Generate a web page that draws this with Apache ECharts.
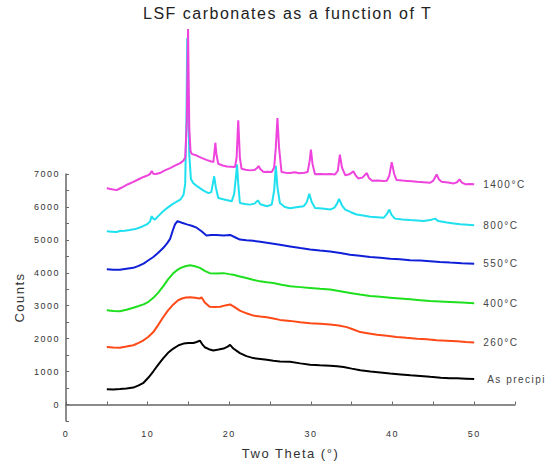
<!DOCTYPE html>
<html>
<head>
<meta charset="utf-8">
<script src="https://cdn.jsdelivr.net/npm/echarts@6/dist/echarts.min.js"></script>
<style>
html,body{margin:0;padding:0;background:#fff;}
#chart{width:551px;height:465px;}
#chart text{letter-spacing:1.5px;}
</style>
</head>
<body>
<div id="chart"></div>
<script>
const titleText = 'LSF carbonates as a function of T';
const xName = 'Two Theta (°)';
const yName = 'Counts';
const seriesNames = ['1400°C', '800°C', '550°C', '400°C', '260°C', 'As precipi'];
const seriesColors = ['#ee44dd', '#1fe0ee', '#1020d8', '#1ee01e', '#ff4a18', '#000000'];

const s1400 = [[5.0,6570],[5.6,6540],[6.2,6510],[6.6,6560],[7.0,6610],[7.6,6690],[8.25,6760],[8.9,6840],[9.5,6910],[10.0,6960],[10.3,7000],[10.5,7090],[10.7,7010],[11.0,7000],[11.5,7030],[12.1,7110],[12.75,7180],[13.4,7260],[14.0,7330],[14.4,7410],[14.6,7500],[14.8,8600],[14.95,11400],[15.1,8400],[15.25,7700],[15.4,7610],[16.0,7560],[16.6,7490],[17.2,7430],[17.8,7380],[18.05,7360],[18.2,7700],[18.3,7950],[18.42,7600],[18.65,7310],[19.2,7260],[19.7,7230],[20.2,7220],[20.7,7210],[20.9,7500],[21.1,8630],[21.3,7500],[21.5,7160],[22.0,7130],[22.55,7110],[23.1,7120],[23.4,7180],[23.6,7240],[23.8,7150],[24.2,7060],[24.7,7070],[25.2,7060],[25.5,7200],[25.7,7800],[25.9,8700],[26.1,7800],[26.4,7060],[26.9,7040],[27.45,7030],[28.0,7050],[28.6,7020],[29.2,7040],[29.6,7060],[29.85,7400],[30.0,7740],[30.2,7300],[30.5,6990],[31.2,7000],[31.8,6990],[32.4,7000],[32.95,6985],[33.3,7100],[33.55,7590],[33.8,7200],[34.2,6965],[34.7,6990],[35.2,7080],[35.5,6950],[35.8,6865],[36.3,6890],[36.85,7030],[37.1,6880],[37.5,6795],[38.2,6800],[38.8,6790],[39.3,6795],[39.6,6950],[39.9,7360],[40.2,7000],[40.5,6815],[41.2,6800],[41.8,6790],[42.4,6780],[43.0,6765],[43.8,6750],[44.6,6735],[45.0,6800],[45.4,6985],[45.7,6830],[46.0,6765],[46.8,6740],[47.5,6715],[47.9,6750],[48.2,6835],[48.5,6740],[48.9,6690],[49.5,6700],[50.0,6690]];

const s800 = [[5.0,5260],[5.6,5250],[6.2,5240],[6.6,5270],[7.2,5280],[7.8,5300],[8.65,5340],[9.3,5400],[9.9,5470],[10.3,5560],[10.5,5720],[10.7,5640],[10.9,5620],[11.3,5720],[11.7,5820],[12.3,5950],[12.95,6070],[13.5,6150],[14.0,6220],[14.4,6370],[14.6,6700],[14.75,8600],[14.85,11130],[14.98,9000],[15.1,7600],[15.3,6850],[15.6,6720],[16.0,6640],[16.4,6570],[16.9,6490],[17.45,6420],[17.8,6450],[18.05,6800],[18.15,6930],[18.35,6600],[18.65,6270],[19.5,6220],[20.3,6170],[20.6,6400],[20.85,7000],[20.95,7290],[21.1,6700],[21.3,6120],[21.9,6090],[22.55,6070],[23.1,6100],[23.5,6200],[23.8,6080],[24.6,6020],[25.2,6070],[25.5,6500],[25.7,7250],[25.9,6600],[26.2,6120],[26.8,6000],[27.45,5960],[28.2,5990],[29.1,6020],[29.5,6150],[29.8,6400],[30.1,6150],[30.5,5970],[31.4,5950],[32.35,5920],[32.9,5980],[33.2,6100],[33.45,6240],[33.8,6050],[34.2,5920],[34.9,5840],[35.6,5770],[36.4,5740],[37.25,5700],[38.1,5690],[38.9,5670],[39.3,5780],[39.6,5920],[39.9,5750],[40.3,5645],[41.2,5620],[42.15,5600],[43.0,5590],[43.8,5575],[44.6,5600],[45.2,5645],[45.6,5570],[46.65,5525],[47.5,5500],[48.3,5475],[49.2,5460],[50.0,5446]];

const s550 = [[5.0,4110],[5.8,4090],[6.6,4090],[7.4,4120],[8.25,4150],[8.9,4210],[9.5,4280],[10.1,4380],[10.7,4480],[11.3,4610],[11.9,4750],[12.4,4900],[12.75,5030],[13.1,5300],[13.35,5470],[13.65,5570],[14.2,5520],[14.8,5470],[15.4,5430],[16.0,5370],[16.6,5260],[17.2,5130],[17.8,5150],[18.45,5150],[19.3,5130],[20.1,5150],[20.7,5080],[21.3,5010],[22.1,4990],[22.95,4970],[23.8,4940],[24.6,4910],[25.4,4880],[26.2,4850],[27.45,4800],[28.7,4750],[29.9,4710],[31.1,4680],[32.35,4650],[33.6,4600],[34.8,4550],[36.0,4520],[37.25,4480],[38.5,4460],[39.7,4430],[40.9,4410],[42.15,4380],[43.4,4370],[44.6,4350],[45.8,4330],[47.05,4310],[48.5,4290],[50.0,4276]];

const s400 = [[5.0,2860],[5.8,2840],[6.6,2830],[7.4,2880],[8.25,2940],[8.9,2990],[9.5,3040],[10.1,3120],[10.7,3240],[11.3,3400],[11.9,3590],[12.5,3800],[13.15,3990],[13.6,4080],[14.0,4140],[14.6,4200],[15.2,4230],[15.8,4200],[16.4,4150],[17.0,4060],[17.6,3990],[18.4,3980],[19.3,3990],[20.0,3960],[20.5,3940],[21.3,3890],[22.1,3840],[22.9,3790],[23.75,3740],[24.6,3710],[25.4,3690],[26.4,3640],[27.45,3590],[28.7,3565],[29.9,3540],[31.1,3515],[32.35,3490],[33.6,3440],[34.8,3390],[36.0,3340],[37.25,3295],[38.5,3270],[39.7,3245],[40.9,3220],[42.15,3195],[43.4,3170],[44.6,3145],[45.8,3130],[47.05,3115],[48.5,3095],[50.0,3074]];

const s260 = [[5.0,1750],[5.8,1730],[6.6,1725],[7.4,1760],[8.25,1800],[8.9,1870],[9.5,1950],[10.1,2060],[10.7,2200],[11.3,2420],[11.9,2650],[12.5,2860],[13.15,3040],[13.7,3160],[14.2,3220],[14.7,3250],[15.2,3260],[15.8,3240],[16.4,3220],[16.6,3260],[17.0,3100],[17.6,2970],[18.2,2960],[18.9,2970],[19.5,3010],[20.1,3040],[20.7,2950],[21.3,2850],[22.1,2770],[22.95,2700],[23.8,2670],[24.6,2650],[25.4,2610],[26.2,2570],[27.45,2540],[28.7,2500],[29.9,2470],[31.1,2450],[32.35,2430],[33.4,2400],[34.4,2350],[35.2,2280],[36.05,2200],[37.1,2160],[38.1,2120],[39.3,2085],[40.5,2050],[41.7,2025],[43.0,2000],[44.2,1980],[45.4,1955],[46.6,1940],[47.9,1920],[49.0,1900],[50.0,1884]];

const sAsPrecip = [[5.0,465],[5.8,460],[6.6,470],[7.4,485],[8.25,515],[8.9,580],[9.5,660],[10.1,820],[10.7,1010],[11.3,1210],[11.9,1400],[12.5,1570],[13.15,1700],[13.8,1800],[14.4,1850],[15.0,1870],[15.6,1870],[16.0,1900],[16.4,1940],[16.7,1830],[17.0,1740],[17.5,1680],[18.05,1640],[18.7,1670],[19.3,1700],[19.8,1760],[20.1,1810],[20.5,1700],[21.3,1560],[22.1,1470],[22.95,1410],[23.8,1385],[24.6,1360],[25.4,1330],[26.2,1310],[27.45,1300],[28.7,1250],[29.9,1210],[31.1,1195],[32.35,1180],[33.2,1165],[34.0,1140],[35.0,1090],[36.05,1040],[37.3,1005],[38.5,975],[39.7,940],[41.0,915],[42.2,890],[43.4,870],[44.6,840],[45.9,810],[47.0,800],[47.9,795],[49.0,785],[50.0,774]];

const allSeries = [s1400, s800, s550, s400, s260, sAsPrecip];

const FONT = "'Liberation Sans', Arial, sans-serif";
const chart = echarts.init(document.getElementById('chart'), null, {renderer: 'svg'});

chart.setOption({
  animation: false,
  backgroundColor: '#ffffff',
  title: {
    text: titleText,
    left: 138,
    top: 0,
    textStyle: {fontFamily: FONT, fontSize: 16, fontWeight: 'normal', color: '#222'}
  },
  grid: {left: 66, right: 36, top: 174, bottom: 39, containLabel: false},
  xAxis: {
    type: 'value',
    min: 0, max: 55, interval: 5,
    name: xName,
    nameLocation: 'middle',
    nameGap: 26,
    nameTextStyle: {fontFamily: FONT, fontSize: 13, color: '#333'},
    axisLine: {lineStyle: {color: '#666', width: 1.5}},
    axisTick: {inside: true, length: 3, lineStyle: {color: '#666'}},
    axisLabel: {
      fontFamily: FONT, fontSize: 9, color: '#333', margin: 8,
      formatter: v => (v % 10 === 0 && v <= 50) ? String(v) : ''
    },
    splitLine: {show: false}
  },
  yAxis: {
    type: 'value',
    min: -500, max: 7000, interval: 500,
    name: yName,
    nameLocation: 'middle',
    nameGap: 40,
    nameTextStyle: {fontFamily: FONT, fontSize: 13, color: '#333'},
    axisLine: {show: true, lineStyle: {color: '#666', width: 1.5}},
    axisTick: {show: true, inside: true, length: 3, lineStyle: {color: '#666'}},
    axisLabel: {
      fontFamily: FONT, fontSize: 9, color: '#333', margin: 6,
      formatter: v => (v % 1000 === 0 && v >= 0) ? String(v) : ''
    },
    splitLine: {show: false}
  },
  series: allSeries.map((d, i) => ({
    name: seriesNames[i],
    type: 'line',
    data: d,
    clip: false,
    showSymbol: false,
    smooth: false,
    z: 10 - i,
    lineStyle: {color: seriesColors[i], width: 2},
    itemStyle: {color: seriesColors[i]},
    endLabel: {
      show: true,
      formatter: '{a}',
      distance: i === 5 ? 13 : 9,
      fontFamily: FONT,
      fontSize: 10,
      color: '#444'
    }
  }))
});
</script>
</body>
</html>
